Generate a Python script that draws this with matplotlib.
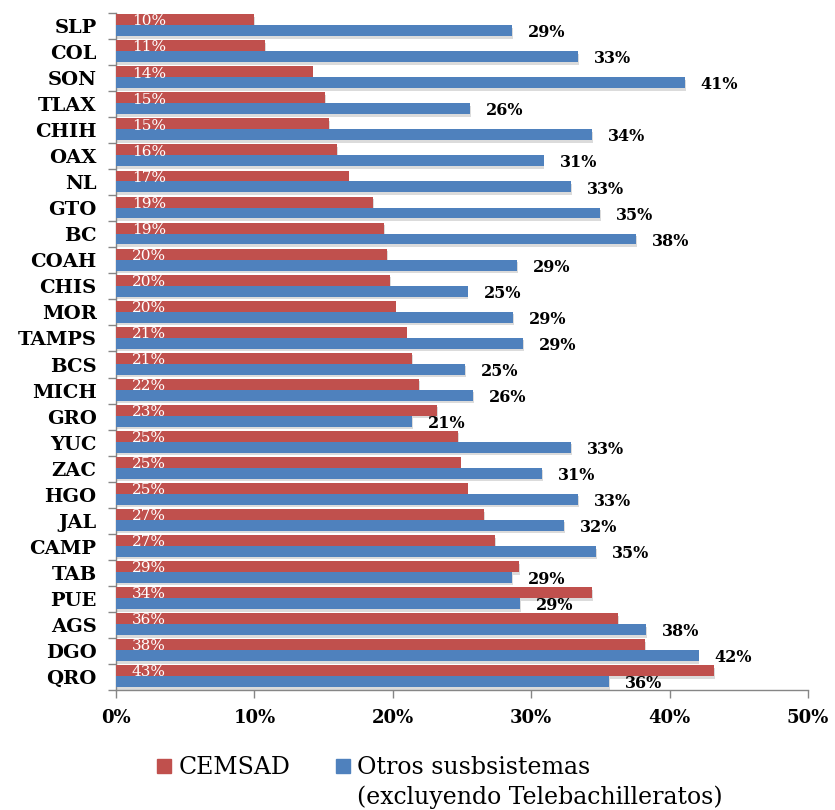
import numpy as np
import matplotlib
matplotlib.use('Agg')
import matplotlib.pyplot as plt
import matplotlib.patheffects as pe
from matplotlib.patches import Rectangle

plt.rcParams['font.family'] = ['DejaVu Serif']

# estados, de arriba hacia abajo
estados = ['SLP', 'COL', 'SON', 'TLAX', 'CHIH', 'OAX', 'NL', 'GTO', 'BC', 'COAH',
           'CHIS', 'MOR', 'TAMPS', 'BCS', 'MICH', 'GRO', 'YUC', 'ZAC', 'HGO', 'JAL',
           'CAMP', 'TAB', 'PUE', 'AGS', 'DGO', 'QRO']

# porcentajes
cemsad = [10.0, 10.8, 14.2, 15.1, 15.4, 16.0, 16.8, 18.6, 19.4, 19.6,
          19.8, 20.2, 21.0, 21.4, 21.9, 23.2, 24.7, 24.9, 25.4, 26.6,
          27.4, 29.1, 34.4, 36.3, 38.2, 43.2]
otros = [28.6, 33.4, 41.1, 25.6, 34.4, 30.9, 32.9, 35.0, 37.6, 29.0,
         25.4, 28.7, 29.4, 25.2, 25.8, 21.4, 32.9, 30.8, 33.4, 32.4,
         34.7, 28.6, 29.2, 38.3, 42.1, 35.6]

xticks = [0, 10, 20, 30, 40, 50]

ROJO = '#C0504D'
AZUL = '#4F81BD'
GRIS = '#868686'

fig = plt.figure(figsize=(8.35, 8.10), dpi=100)
ax = fig.add_axes([116 / 835, 1 - 690 / 810, 692 / 835, 677 / 810])

y = np.arange(len(estados))
h = 0.42
sombra = [pe.SimplePatchShadow(offset=(0.6, -1.8), shadow_rgbFace='0.6', alpha=0.35), pe.Normal()]

b1 = ax.barh(y - h / 2 - 0.03, cemsad, height=h, color=ROJO, path_effects=sombra, zorder=3)
b2 = ax.barh(y + h / 2 - 0.03, otros, height=h, color=AZUL, path_effects=sombra, zorder=3)

# etiquetas CEMSAD (blancas, dentro de la barra)
for yi, v in zip(y, cemsad):
    ax.annotate(f'{v:.0f}%', xy=(0, yi - h / 2 - 0.03), xytext=(11.5, -1.2),
                textcoords='offset points', ha='left', va='center',
                color='white', fontsize=11, zorder=5)

# etiquetas otros subsistemas (negras, al final de la barra)
for yi, v in zip(y, otros):
    ax.annotate(f'{v:.0f}%', xy=(v, yi + h / 2 - 0.03), xytext=(11.5, -1.5),
                textcoords='offset points', ha='left', va='center',
                color='black', fontsize=11.5, fontweight='bold', zorder=5)

ax.set_ylim(len(estados) - 0.5, -0.5)
ax.set_xlim(0, 50)

ax.set_yticks(y)
ax.set_yticklabels(estados, fontsize=14, fontweight='bold')
ax.set_yticks(np.arange(-0.5, len(estados), 1), minor=True)
ax.tick_params(axis='y', which='major', length=0, pad=14)
ax.tick_params(axis='y', which='minor', length=6, color=GRIS, width=1)

ax.set_xticks(xticks)
ax.set_xticklabels([f'{t}%' for t in xticks], fontsize=13, fontweight='bold')
ax.tick_params(axis='x', length=6, color=GRIS, width=1, pad=8)

for s in ['top', 'right']:
    ax.spines[s].set_visible(False)
for s in ['left', 'bottom']:
    ax.spines[s].set_color(GRIS)
    ax.spines[s].set_linewidth(1.0)

# leyenda: segunda linea como entrada sin marcador
vacio = Rectangle((0, 0), 1, 1, alpha=0)
handles = [Rectangle((0, 0), 1, 1, color=ROJO), vacio,
           Rectangle((0, 0), 1, 1, color=AZUL), vacio]
labels = ['CEMSAD', ' ', 'Otros susbsistemas', '(excluyendo Telebachilleratos)']
fig.legend(handles, labels, ncol=2, loc='upper left',
           bbox_to_anchor=(157 / 835, 1 - 756 / 810), frameon=False,
           fontsize=17, handlelength=0.6, handleheight=0.55,
           handletextpad=0.3, columnspacing=1.95, labelspacing=0.28,
           borderpad=0, borderaxespad=0)

fig.savefig('out.png', dpi=100)
